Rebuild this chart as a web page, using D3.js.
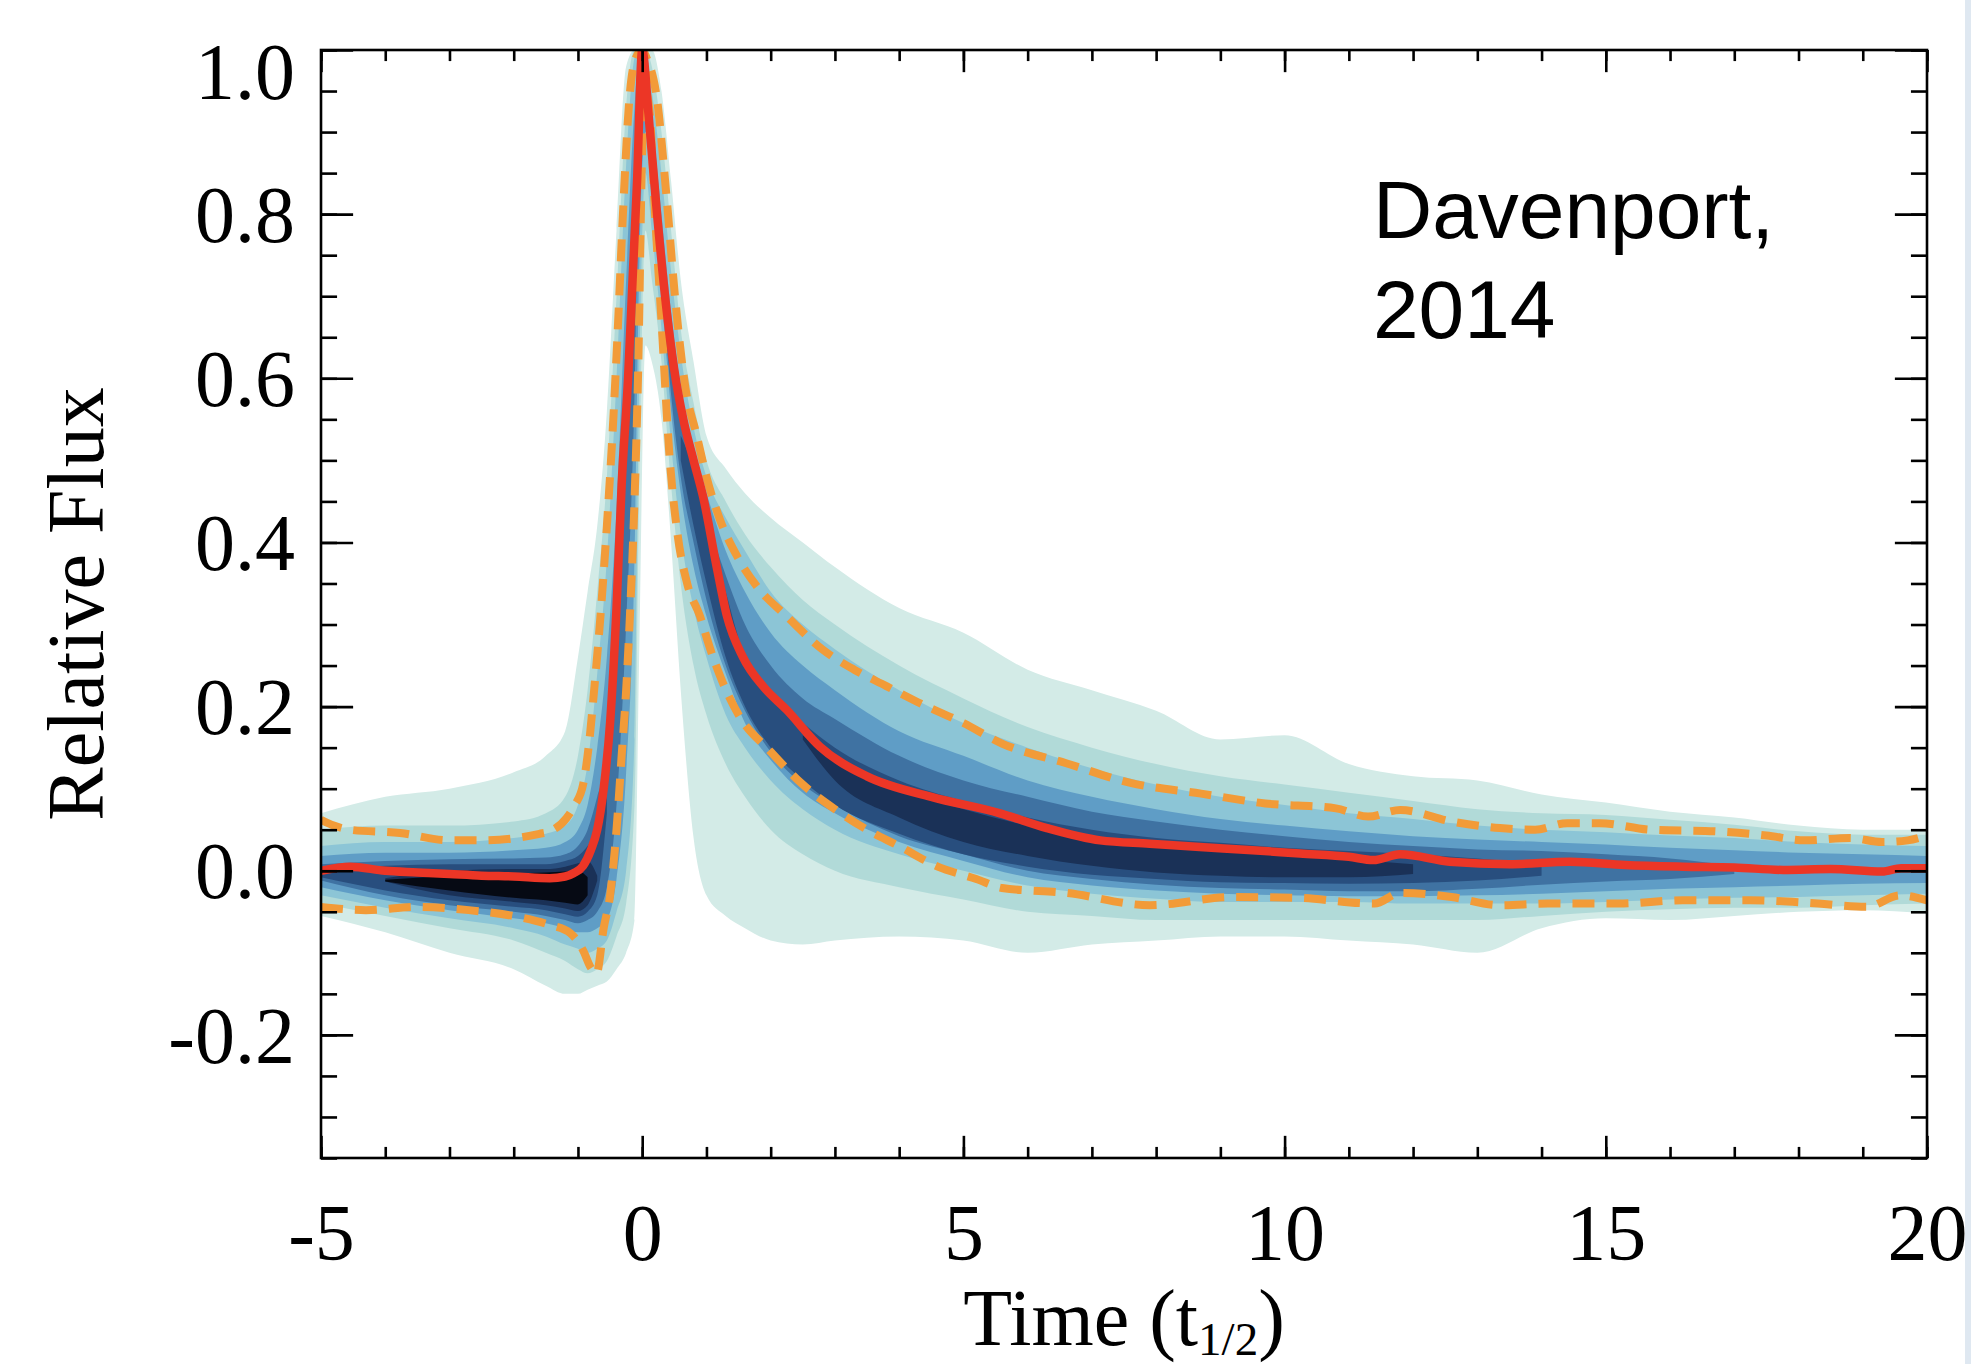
<!DOCTYPE html>
<html><head><meta charset="utf-8">
<script src="https://cdn.jsdelivr.net/npm/d3@7"></script>
<style>html,body{margin:0;padding:0;background:#fff;} svg{display:block;}</style>
</head><body>
<svg id="chart" width="1971" height="1364"></svg>
<script>
// ---------------- DATA ----------------
// Median flare profile (red)
const medianT = [-5,-4.55,-4,-3.5,-3,-2.5,-2,-1.44,-1.2,-1.07,-0.92,-0.8,-0.7,-0.6,-0.5,-0.4,-0.32,-0.22,-0.15,-0.08,0,0.1,0.22,0.37,0.5,0.64,0.8,0.95,1.16,1.32,1.57,1.89,2.25,2.77,3.5,4.5,5.57,6.3,7.13,7.9,8.68,9.5,10.24,11.0,11.38,11.8,12.57,13.5,14.44,15.3,16.2,17.0,17.76,18.5,19.3,19.6,20];
const medianV = [0.0,0.005,0.0,-0.002,-0.004,-0.006,-0.007,-0.009,-0.007,-0.003,0.006,0.025,0.05,0.1,0.18,0.32,0.47,0.6,0.72,0.84,1.0,0.92,0.81,0.69,0.61,0.55,0.50,0.455,0.37,0.31,0.26,0.224,0.196,0.151,0.115,0.09,0.07,0.052,0.037,0.033,0.029,0.025,0.021,0.017,0.013,0.02,0.011,0.008,0.011,0.007,0.005,0.004,0.001,0.002,-0.001,0.003,0.003];

// Upper percentile (orange dashed)
const upperT = [-5,-4.8,-4.55,-3.77,-3,-2.5,-1.95,-1.6,-1.44,-1.18,-1.05,-0.92,-0.81,-0.76,-0.65,-0.55,-0.45,-0.38,-0.3,-0.2,-0.1,0.0,0.07,0.23,0.38,0.51,0.67,0.85,1.0,1.2,1.5,1.8,2.25,2.8,3.3,3.8,4.3,5.0,5.6,6.6,7.6,8.7,9.7,10.8,11.3,11.8,12.6,13.35,13.9,14.4,14.9,15.7,16.7,17.5,18.1,18.8,19.3,19.7,20];
const upperV = [0.062,0.055,0.05,0.046,0.037,0.037,0.040,0.045,0.048,0.064,0.08,0.105,0.168,0.21,0.31,0.42,0.55,0.66,0.80,0.94,0.99,1.0,0.99,0.94,0.82,0.70,0.59,0.53,0.48,0.43,0.38,0.345,0.31,0.27,0.245,0.225,0.205,0.18,0.155,0.131,0.107,0.094,0.082,0.076,0.066,0.074,0.060,0.052,0.050,0.058,0.058,0.050,0.048,0.043,0.037,0.040,0.035,0.037,0.043];

// Lower percentile (orange dashed)
const lowerT = [-5,-4.3,-3.5,-2.7,-1.95,-1.44,-1.12,-0.92,-0.8,-0.71,-0.6,-0.5,-0.4,-0.32,-0.25,-0.18,-0.12,-0.06,0.0,0.05,0.12,0.2,0.3,0.43,0.55,0.7,0.9,1.06,1.25,1.5,2.0,2.5,3.0,3.5,4.0,4.6,5.2,5.6,6.6,7.9,9.2,10.2,11.4,11.8,12.6,13.35,14.1,15.2,16.2,17.25,18.3,19.06,19.58,20];
const lowerV = [-0.044,-0.048,-0.044,-0.048,-0.056,-0.066,-0.076,-0.097,-0.118,-0.125,-0.07,-0.03,0.05,0.14,0.22,0.33,0.45,0.62,0.88,0.95,0.92,0.80,0.67,0.50,0.41,0.35,0.31,0.27,0.23,0.19,0.145,0.105,0.075,0.05,0.03,0.005,-0.01,-0.021,-0.027,-0.042,-0.032,-0.033,-0.04,-0.027,-0.032,-0.042,-0.04,-0.04,-0.036,-0.036,-0.04,-0.044,-0.03,-0.036];

// Density contour levels: time grid and lower/upper envelope of each level (outer -> inner)
const densityT = [-5,-4,-3,-2,-1.5,-1.2,-1.0,-0.85,-0.7,-0.55, -0.4,-0.25,-0.12,-0.05,0.05,0.15,0.3,0.45,0.6,0.8, 1.0,1.3,1.6,2,2.5,3,4,5,6,7, 8,9,10,11,12,13,14,15,16,17, 18,19,20];

const level1Lo = [-0.055,-0.075,-0.10,-0.12,-0.14,-0.15,-0.15,-0.145,-0.14,-0.135, -0.12,-0.10,-0.06,0.25,0.64,0.62,0.55,0.40,0.22,0.04, -0.03,-0.055,-0.07,-0.085,-0.09,-0.085,-0.08,-0.085,-0.10,-0.09, -0.085,-0.08,-0.08,-0.085,-0.09,-0.10,-0.07,-0.058,-0.06,-0.055, -0.05,-0.048,-0.052];
const level1Hi = [0.07,0.09,0.10,0.12,0.14,0.17,0.26,0.34,0.42,0.56, 0.78,0.98,1.0,1.0,1.0,1.0,0.95,0.84,0.72,0.62, 0.53,0.49,0.46,0.43,0.40,0.37,0.32,0.29,0.245,0.22, 0.195,0.16,0.165,0.13,0.115,0.11,0.093,0.083,0.072,0.065, 0.055,0.05,0.05];

const level2Lo = [-0.04,-0.055,-0.07,-0.085,-0.10,-0.11,-0.12,-0.125,-0.12,-0.11, -0.08,-0.04,0.08,0.45,0.78,0.72,0.62,0.47,0.35,0.25, 0.19,0.13,0.09,0.05,0.02,0.0,-0.02,-0.035,-0.05,-0.055, -0.06,-0.06,-0.06,-0.06,-0.06,-0.06,-0.055,-0.05,-0.047,-0.045, -0.045,-0.042,-0.04];
const level2Hi = [0.05,0.055,0.055,0.06,0.07,0.09,0.14,0.22,0.34,0.48, 0.70,0.93,1.0,1.0,1.0,0.98,0.90,0.78,0.66,0.57, 0.50,0.45,0.41,0.37,0.33,0.30,0.25,0.21,0.175,0.15, 0.13,0.115,0.105,0.095,0.085,0.075,0.07,0.068,0.062,0.056, 0.048,0.044,0.044];

const level3Lo = [-0.03,-0.045,-0.058,-0.07,-0.08,-0.09,-0.095,-0.10,-0.095,-0.085, -0.05,0.0,0.16,0.58,0.85,0.78,0.66,0.52,0.41,0.32, 0.26,0.19,0.15,0.11,0.075,0.05,0.02,0.0,-0.018,-0.028, -0.034,-0.038,-0.038,-0.038,-0.04,-0.04,-0.04,-0.038,-0.035,-0.033, -0.032,-0.03,-0.028];
const level3Hi = [0.03,0.035,0.035,0.04,0.045,0.055,0.08,0.13,0.24,0.38, 0.60,0.86,0.99,1.0,1.0,0.95,0.85,0.73,0.63,0.54, 0.48,0.43,0.39,0.34,0.30,0.27,0.22,0.18,0.15,0.125, 0.105,0.09,0.08,0.07,0.063,0.055,0.05,0.047,0.043,0.04, 0.035,0.032,0.03];

const level4Lo = [-0.02,-0.036,-0.048,-0.058,-0.064,-0.07,-0.075,-0.075,-0.07,-0.06, -0.01,0.12,0.38,0.72,0.90,0.82,0.70,0.56,0.46,0.37, 0.31,0.24,0.18,0.135,0.095,0.07,0.035,0.012,-0.008,-0.018, -0.024,-0.028,-0.03,-0.031,-0.031,-0.03,-0.028,-0.025,-0.022,-0.02, -0.018,-0.016,-0.015];
const level4Hi = [0.018,0.022,0.022,0.025,0.028,0.035,0.05,0.08,0.15,0.26, 0.44,0.72,0.93,0.99,0.99,0.92,0.80,0.68,0.59,0.51, 0.46,0.39,0.34,0.29,0.25,0.22,0.17,0.14,0.11,0.09, 0.075,0.063,0.055,0.048,0.042,0.038,0.035,0.032,0.028,0.025, 0.022,0.02,0.018];

const level5Lo = [-0.012,-0.03,-0.042,-0.05,-0.055,-0.06,-0.064,-0.06,-0.05,-0.02, 0.08,0.30,0.58,0.86,0.94,0.86,0.72,0.58,0.48,0.40, 0.33,0.25,0.195,0.145,0.105,0.08,0.042,0.02,0.0,-0.01, -0.017,-0.021,-0.023,-0.025,-0.025,-0.022,-0.017,-0.013,-0.01,-0.004, null,null,null];
const level5Hi = [0.008,0.012,0.014,0.015,0.016,0.02,0.03,0.05,0.09,0.14, 0.30,0.52,0.80,0.96,0.97,0.89,0.77,0.65,0.56,0.48, 0.43,0.36,0.30,0.25,0.21,0.185,0.14,0.11,0.09,0.072, 0.06,0.05,0.042,0.035,0.03,0.026,0.024,0.02,0.015,0.006, null,null,null];

const level6Lo = [-0.008,-0.024,-0.036,-0.044,-0.048,-0.053,-0.056,-0.05,-0.03,0.07, null,null,null,null,null,null,null,null,0.50,0.42, 0.35,0.26,0.20,0.15,0.11,0.08,0.045,0.02,0.005,-0.005, -0.01,-0.014,-0.015,-0.016,-0.015,-0.012,-0.006,null,null,null, null,null,null];
const level6Hi = [0.002,0.006,0.008,0.008,0.008,0.012,0.018,0.03,0.05,0.09, null,null,null,null,null,null,null,null,0.53,0.49, 0.43,0.34,0.26,0.215,0.18,0.15,0.11,0.085,0.065,0.05, 0.04,0.034,0.028,0.024,0.02,0.015,0.008,null,null,null, null,null,null];

const level7Lo = [null,-0.013,-0.03,-0.038,-0.042,-0.046,-0.049,-0.042,-0.012,null, null,null,null,null,null,null,null,null,null,null, null,null,null,null,0.16,0.11,0.065,0.035,0.018,0.006, -0.002,-0.006,-0.008,-0.008,-0.004,null,null,null,null,null, null,null,null];
const level7Hi = [null,-0.009,0.0,0.002,0.002,0.005,0.009,0.012,-0.006,null, null,null,null,null,null,null,null,null,null,null, null,null,null,null,0.165,0.135,0.10,0.075,0.055,0.04, 0.032,0.026,0.02,0.014,0.008,null,null,null,null,null, null,null,null];

const level8Lo = [null,-0.013,-0.024,-0.033,-0.036,-0.039,-0.041,-0.03,null,null, null,null,null,null,null,null,null,null,null,null, null,null,null,null,null,null,null,null,null,null, null,null,null,null,null,null,null,null,null,null, null,null,null];
const level8Hi = [null,-0.011,-0.006,-0.003,-0.002,-0.001,0.0,-0.008,null,null, null,null,null,null,null,null,null,null,null,null, null,null,null,null,null,null,null,null,null,null, null,null,null,null,null,null,null,null,null,null, null,null,null];

// Axis ticks and labels
const xMajorTicks = [-5,0,5,10,15,20];
const xTickLabels = ["-5","0","5","10","15","20"];
const xMinorTicks = d3.range(-5,21,1);
const yMajorTicks = [-0.2,0.0,0.2,0.4,0.6,0.8,1.0];
const yTickLabels = ["-0.2","0.0","0.2","0.4","0.6","0.8","1.0"];
const yMinorTicks = d3.range(-35,101,5).map(v=>v/100);

const xTitle = "Time (t";
const xTitleSub = "1/2";
const yTitle = "Relative Flux";
const noteLines = ["Davenport,","2014"];

// ---------------- STYLE ----------------
const levelColors = ["#d3ebe7","#b1dad8","#8cc5d6","#5f9dc6","#3f72a2","#284e7e","#1a3157","#060a14"];
const medianColor = "#ec3626";
const pctColor = "#f29b38";

// ---------------- DRAW ----------------
const svg = d3.select("#chart");
const M = {left:321,right:1927,top:50,bottom:1158};
const x = d3.scaleLinear().domain([-5,20]).range([M.left,M.right]);
const y = d3.scaleLinear().domain([-0.35,1.0]).range([M.bottom,M.top]);

svg.append("rect").attr("width",1971).attr("height",1364).attr("fill","#fff");
svg.append("rect").attr("x",1965).attr("y",0).attr("width",6).attr("height",1364).attr("fill","#dfe8f1");

svg.append("defs").append("clipPath").attr("id","plotclip")
  .append("rect").attr("x",M.left).attr("y",M.top).attr("width",M.right-M.left).attr("height",M.bottom-M.top);

const plot = svg.append("g").attr("clip-path","url(#plotclip)");

const levels = [
  [level1Lo,level1Hi],[level2Lo,level2Hi],[level3Lo,level3Hi],[level4Lo,level4Hi],
  [level5Lo,level5Hi],[level6Lo,level6Hi],[level7Lo,level7Hi],[level8Lo,level8Hi]
];
const area = d3.area()
  .defined(d => d.lo != null && d.hi != null)
  .x(d => x(d.t)).y0(d => y(d.lo)).y1(d => y(d.hi))
  .curve(d3.curveMonotoneX);

levels.forEach(([lo,hi],k) => {
  const data = densityT.map((t,i) => ({t, lo: lo[i], hi: hi[i]}));
  plot.append("path").datum(data).attr("d",area).attr("fill",levelColors[k]).attr("stroke","none");
});

const line = d3.line().x(d => x(d[0])).y(d => y(d[1])).curve(d3.curveMonotoneX);
const zip = (a,b) => a.map((t,i)=>[t,b[i]]);

plot.append("path").datum(zip(upperT,upperV)).attr("d",line)
  .attr("fill","none").attr("stroke",pctColor).attr("stroke-width",8).attr("stroke-dasharray","22,12");
plot.append("path").datum(zip(lowerT,lowerV)).attr("d",line)
  .attr("fill","none").attr("stroke",pctColor).attr("stroke-width",8).attr("stroke-dasharray","22,12");
plot.append("path").datum(zip(medianT,medianV)).attr("d",line)
  .attr("fill","none").attr("stroke",medianColor).attr("stroke-width",8.5).attr("stroke-linejoin","round");

// Axes (ticks inward on all four sides)
const axW = 2.6;
function styleAxis(g){
  g.select(".domain").remove();
  g.selectAll(".tick line").attr("stroke","#000").attr("stroke-width",axW);
}
const xLen = (M.bottom-M.top)*0.02, yLen = (M.right-M.left)*0.02;

// bottom
const gB = svg.append("g").attr("transform",`translate(0,${M.bottom})`);
gB.append("g").call(d3.axisBottom(x).tickValues(xMinorTicks).tickSize(-xLen/2).tickFormat("")).call(styleAxis);
const gBM = gB.append("g").call(d3.axisBottom(x).tickValues(xMajorTicks).tickSize(-xLen).tickFormat((d,i)=>xTickLabels[i])).call(styleAxis);
gBM.selectAll("text").attr("y",102).attr("dy",0)
  .attr("font-family","'Liberation Serif','Times New Roman',serif").attr("font-size",80).attr("fill","#000");
// top
const gT = svg.append("g").attr("transform",`translate(0,${M.top})`);
gT.append("g").call(d3.axisTop(x).tickValues(xMinorTicks).tickSize(-xLen/2).tickFormat("")).call(styleAxis);
gT.append("g").call(d3.axisTop(x).tickValues(xMajorTicks).tickSize(-xLen).tickFormat("")).call(styleAxis);
// left
const gL = svg.append("g").attr("transform",`translate(${M.left},0)`);
gL.append("g").call(d3.axisLeft(y).tickValues(yMinorTicks).tickSize(-yLen/2).tickFormat("")).call(styleAxis);
const gLM = gL.append("g").call(d3.axisLeft(y).tickValues(yMajorTicks).tickSize(-yLen).tickFormat((d,i)=>yTickLabels[i])).call(styleAxis);
gLM.selectAll("text").attr("x",-26).attr("dy","0.34em")
  .attr("font-family","'Liberation Serif','Times New Roman',serif").attr("font-size",80).attr("fill","#000")
  .attr("transform",d => (y(d) - M.top) < 21 ? `translate(0,${21-(y(d)-M.top)})` : null);
// right
const gR = svg.append("g").attr("transform",`translate(${M.right},0)`);
gR.append("g").call(d3.axisRight(y).tickValues(yMinorTicks).tickSize(-yLen/2).tickFormat("")).call(styleAxis);
gR.append("g").call(d3.axisRight(y).tickValues(yMajorTicks).tickSize(-yLen).tickFormat("")).call(styleAxis);

// frame
svg.append("rect").attr("x",M.left).attr("y",M.top).attr("width",M.right-M.left).attr("height",M.bottom-M.top)
  .attr("fill","none").attr("stroke","#000").attr("stroke-width",axW);

// axis titles
const xt = svg.append("text").attr("x",(M.left+M.right)/2).attr("y",1345).attr("text-anchor","middle")
  .attr("font-family","'Liberation Serif','Times New Roman',serif").attr("font-size",80).attr("fill","#000");
xt.append("tspan").text(xTitle);
xt.append("tspan").attr("dy",10).attr("font-size",47).text(xTitleSub);
xt.append("tspan").attr("dy",-10).text(")");

svg.append("text").attr("transform",`translate(103,${(M.top+M.bottom)/2}) rotate(-90)`).attr("text-anchor","middle")
  .attr("font-family","'Liberation Serif','Times New Roman',serif").attr("font-size",80).attr("fill","#000").text(yTitle);

// annotation
const note = svg.append("text").attr("font-family","'Liberation Sans',Arial,sans-serif").attr("font-size",82).attr("fill","#000");
noteLines.forEach((s,i)=>{
  note.append("tspan").attr("x",1373).attr("y",238+i*100).text(s);
});
</script>
</body></html>
